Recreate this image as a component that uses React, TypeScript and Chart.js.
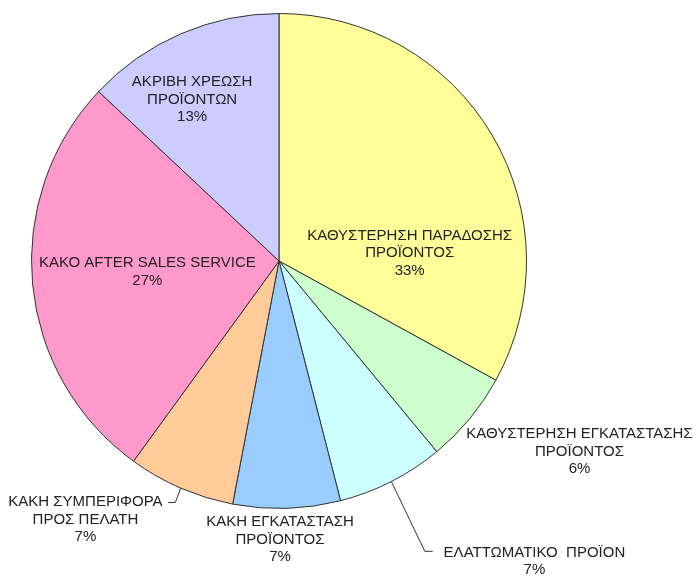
import React, { useEffect, useRef } from "react";
import { Chart, registerables } from "chart.js";

Chart.register(...registerables);

const categories: string[][] = [
  ["ΚΑΘΥΣΤΕΡΗΣΗ ΠΑΡΑΔΟΣΗΣ", "ΠΡΟΪΟΝΤΟΣ"],
  ["ΚΑΘΥΣΤΕΡΗΣΗ ΕΓΚΑΤΑΣΤΑΣΗΣ", "ΠΡΟΪΟΝΤΟΣ"],
  ["ΕΛΑΤΤΩΜΑΤΙΚΟ  ΠΡΟΪΟΝ"],
  ["ΚΑΚΗ ΕΓΚΑΤΑΣΤΑΣΗ", "ΠΡΟΪΟΝΤΟΣ"],
  ["ΚΑΚΗ ΣΥΜΠΕΡΙΦΟΡΑ", "ΠΡΟΣ ΠΕΛΑΤΗ"],
  ["ΚΑΚΟ AFTER SALES SERVICE"],
  ["ΑΚΡΙΒΗ ΧΡΕΩΣΗ", "ΠΡΟΪΟΝΤΩΝ"],
];
const values: number[] = [33, 6, 7, 7, 7, 27, 13];
const colors: string[] = ["#FFFF99", "#CCFFCC", "#CCFFFF", "#99CCFF", "#FFCC99", "#FF99CC", "#CCCCFF"];

// label block centres, in units of the pie radius from the pie centre
const labelPos: [number, number][] = [
  [0.528, -0.032],
  [1.214, 0.77],
  [1.032, 1.214],
  [0.004, 1.125],
  [-0.782, 1.044],
  [-0.532, 0.044],
  [-0.351, -0.653],
];
// leader line bend points (radius units); empty = no leader
const leaders: [number, number][][] = [
  [],
  [],
  [[0.589, 1.173], [0.621, 1.173]],
  [],
  [[-0.419, 0.976], [-0.448, 0.976]],
  [],
  [],
];

const LINE_H = 17.5;
const FONT = '15px "Liberation Sans", Arial, sans-serif';

const labelPlugin = {
  id: "pieLabels",
  afterDatasetsDraw(chart: any) {
    const meta = chart.getDatasetMeta(0);
    const ctx = chart.ctx as CanvasRenderingContext2D;
    const total = values.reduce((a, b) => a + b, 0);
    ctx.save();
    meta.data.forEach((arc: any, i: number) => {
      const cx = arc.x;
      const cy = arc.y;
      const R = arc.outerRadius;
      const lines = [...categories[i], Math.round((values[i] / total) * 100) + "%"];
      const lx = cx + labelPos[i][0] * R;
      const ly = cy + labelPos[i][1] * R;
      if (leaders[i].length) {
        const mid = (arc.startAngle + arc.endAngle) / 2;
        ctx.beginPath();
        ctx.strokeStyle = "#333";
        ctx.lineWidth = 1;
        ctx.moveTo(cx + Math.cos(mid) * R, cy + Math.sin(mid) * R);
        leaders[i].forEach((p) => ctx.lineTo(cx + p[0] * R, cy + p[1] * R));
        ctx.stroke();
      }
      ctx.font = FONT;
      ctx.fillStyle = "#222";
      ctx.textAlign = "center";
      ctx.textBaseline = "middle";
      const top = ly - ((lines.length - 1) * LINE_H) / 2;
      lines.forEach((t, k) => ctx.fillText(t, lx, top + k * LINE_H));
    });
    ctx.restore();
  },
};

export default function App() {
  const ref = useRef<HTMLCanvasElement | null>(null);
  useEffect(() => {
    if (!ref.current) return;
    const chart = new Chart(ref.current, {
      type: "pie",
      data: {
        labels: categories.map((c) => c.join(" ")),
        datasets: [
          {
            data: values,
            backgroundColor: colors,
            borderColor: "#333",
            borderWidth: 1,
          },
        ],
      },
      options: {
        animation: false,
        responsive: false,
        devicePixelRatio: 1,
        layout: { padding: { left: 31, right: 169, top: 13, bottom: 67 } },
        plugins: { legend: { display: false }, tooltip: { enabled: false } },
      },
      plugins: [labelPlugin],
    });
    return () => chart.destroy();
  }, []);
  return (
    <div style={{ position: "absolute", left: 0, top: 0, width: 696, height: 576, background: "#fff" }}>
      <canvas ref={ref} width={696} height={576} />
    </div>
  );
}
